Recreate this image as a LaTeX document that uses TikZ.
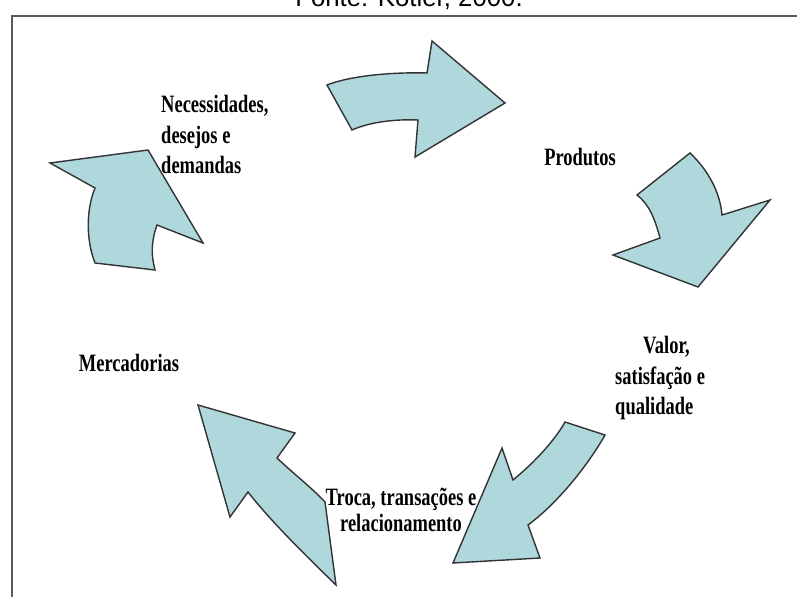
\documentclass[tikz,border=0pt]{standalone}
\usepackage{fontspec}
\newfontfamily\labelFont{Liberation Serif}[FakeStretch=0.74]
\newfontfamily\sourceFont{Liberation Sans}

\begin{document}
\begin{tikzpicture}[x=0.03cm, y=-0.03cm]
    % Define colours
    \definecolor{borderColour}{HTML}{333333}
    \definecolor{fillColour}{HTML}{AED8DC}
    \definecolor{frameColour}{HTML}{5A5A5A}

    \tikzset{
        cycleArrow/.style={fill=fillColour, draw=borderColour, line width=1.2pt, line join=miter},
        cycleLabel/.style={font=\labelFont\bfseries\fontsize{21.3}{26}\selectfont, inner sep=0pt}
    }

    % Fix the canvas and clip to it
    \useasboundingbox (0,0) rectangle (797,597);
    \clip (0,0) rectangle (797,597);

    % Source line, cut by the top edge
    \node[font=\sourceFont\fontsize{22}{24}\selectfont, anchor=base, inner sep=0pt] (source) at (409,7) {Fonte: Kotler, 2000.};

    % Draw frame
    \draw[frameColour, line width=1.5pt] (797,16) -- (12,16) -- (12,597);

    % Top arrow
    \filldraw[cycleArrow] (327,85) .. controls (350,76) and (390,72) .. (427,73)
        -- (432,41) -- (505,103) -- (415,157) -- (418,120)
        .. controls (395,119) and (370,122) .. (352,130) -- cycle;

    % Right arrow
    \filldraw[cycleArrow] (637,195) -- (690,153) .. controls (708,170) and (720,192) .. (722,215)
        -- (770,200) -- (698,287) -- (613,255) -- (660,238)
        .. controls (655,220) and (650,205) .. (637,195) -- cycle;

    % Bottom right arrow
    \filldraw[cycleArrow] (565,422) -- (605,435) .. controls (585,470) and (555,505) .. (528,525)
        -- (540,558) -- (453,563) -- (502,448) -- (513,480)
        .. controls (535,462) and (555,440) .. (565,422) -- cycle;

    % Bottom left arrow
    \filldraw[cycleArrow] (198,405) -- (295,433) -- (277,458)
        .. controls (295,475) and (312,488) .. (325,502) -- (336,585)
        .. controls (300,550) and (270,520) .. (248,492) -- (230,517) -- cycle;

    % Left arrow
    \filldraw[cycleArrow] (50,163) -- (148,150) -- (203,243) -- (157,225)
        .. controls (150,245) and (152,258) .. (155,270) -- (95,263)
        .. controls (86,240) and (86,210) .. (95,188) -- cycle;

    % Labels
    \node[cycleLabel, anchor=north west, align=left] (needs) at (161,95) {Necessidades,\\desejos e\\demandas};
    \node[cycleLabel] (products) at (580,157) {Produtos};
    \node[cycleLabel, anchor=north west, align=left] (value) at (615,336) {\hspace*{0.84cm}Valor,\\satisfação e\\qualidade};
    \node[cycleLabel, align=center, font=\labelFont\bfseries\fontsize{21.3}{22}\selectfont] (exchange) at (401,510) {Troca, transações e\\relacionamento};
    \node[cycleLabel] (markets) at (129,363) {Mercadorias};

\end{tikzpicture}
\end{document}
